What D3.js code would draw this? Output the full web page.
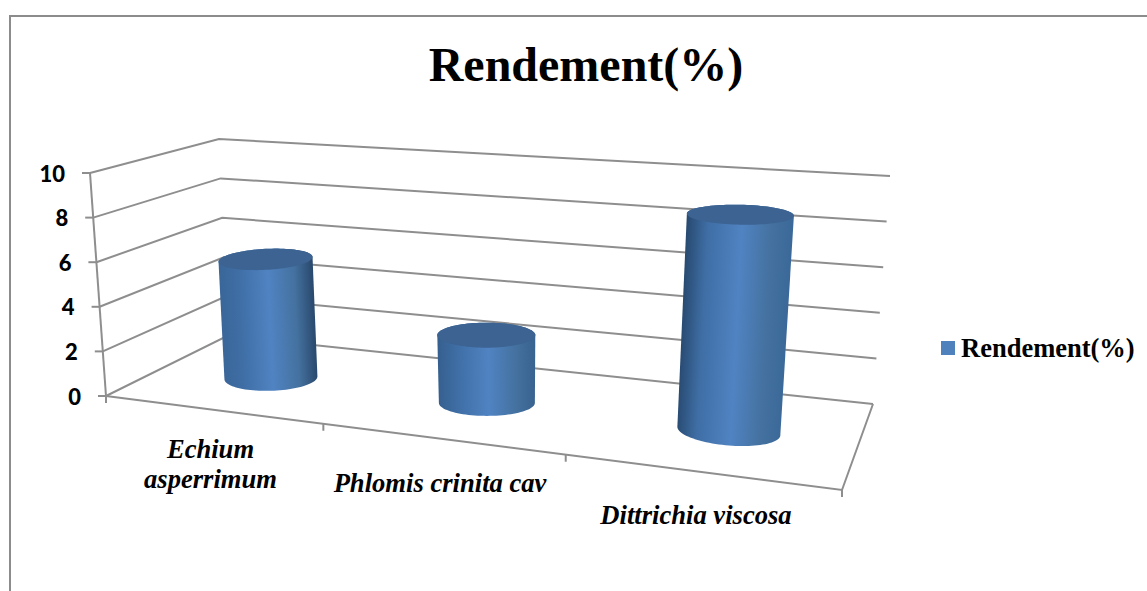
<!DOCTYPE html>
<html>
<head>
<meta charset="utf-8">
<script src="https://cdn.jsdelivr.net/npm/d3@7"></script>
<style>
  html, body { margin: 0; padding: 0; background: #fff; overflow: hidden; }
</style>
</head>
<body>
<div class="chart"></div>
<script>
var chartTitle = "Rendement(%)";
var categories = [["Echium", "asperrimum"], ["Phlomis crinita cav"], ["Dittrichia viscosa"]];
var rendement = [5.5, 3, 9.1];
var valueTicks = [0, 2, 4, 6, 8, 10];

var width = 1147, height = 591;

// screen corners of the 3d box: floor plane and the plane at the top value
var floorCorners = { fl: [106, 396], fr: [842, 490], br: [873, 404], bl: [227, 336] };
var topCorners = { fl: [90, 173], fr: [880, 232], br: [890, 176], bl: [219, 139] };

// unit square -> quad (u along the category axis, d going to the back wall)
function quadMap(q) {
  var x0 = q.fl[0], y0 = q.fl[1], x1 = q.fr[0], y1 = q.fr[1];
  var x2 = q.br[0], y2 = q.br[1], x3 = q.bl[0], y3 = q.bl[1];
  var sx = x0 - x1 + x2 - x3, sy = y0 - y1 + y2 - y3;
  var dx1 = x1 - x2, dx2 = x3 - x2, dy1 = y1 - y2, dy2 = y3 - y2;
  var den = dx1 * dy2 - dx2 * dy1;
  var g = (sx * dy2 - dx2 * sy) / den;
  var h = (dx1 * sy - sx * dy1) / den;
  var a = x1 - x0 + g * x1, b = x3 - x0 + h * x3;
  var d = y1 - y0 + g * y1, e = y3 - y0 + h * y3;
  return function (u, v) {
    var w = g * u + h * v + 1;
    return [(a * u + b * v + x0) / w, (d * u + e * v + y0) / w];
  };
}

var floorMap = quadMap(floorCorners);
var topMap = quadMap(topCorners);

var valueScale = d3.scaleLinear().domain([0, 10]).range([0, 1]);
// softens the perspective along the category axis a little
var catAxis = d3.scalePow().exponent(0.983).domain([0, 1]).range([0, 1]);
var catScale = d3.scaleBand().domain(d3.range(categories.length)).range([0, 1]);

// u, d on the floor, val on the value axis
function project(u, d, val) {
  var p = floorMap(u, d), q = topMap(u, d), t = valueScale(val);
  return [p[0] + (q[0] - p[0]) * t, p[1] + (q[1] - p[1]) * t];
}

var svg = d3.select(".chart").append("svg")
            .attr("width", width)
            .attr("height", height)
            .style("display", "block");

// outer chart frame, open at the bottom and right
svg.append("path")
   .attr("d", "M10 591V16H1147")
   .attr("fill", "none")
   .attr("stroke", "#8c8c8c")
   .attr("stroke-width", 2);

svg.append("text")
   .attr("x", 586).attr("y", 81)
   .attr("text-anchor", "middle")
   .style("font", "bold 48px 'Liberation Serif'")
   .style("fill", "#000")
   .text(chartTitle);

var lineColor = "#8e8e8e";
var line = d3.line();
var gridGroup = svg.append("g")
                   .attr("fill", "none")
                   .attr("stroke", lineColor)
                   .attr("stroke-width", 2);

// gridlines run along the side wall, then the back wall
gridGroup.selectAll(".grid")
         .data(valueTicks)
         .enter().append("path")
         .attr("d", function (v) { return line([project(0, 0, v), project(0, 1, v), project(1, 1, v)]); });

// vertical value axis at the front left corner
gridGroup.append("path").attr("d", line([project(0, 0, 0), project(0, 0, 10)]));

// floor outline, right side and front
gridGroup.append("path").attr("d", line([project(1, 1, 0), project(1, 0, 0), project(0, 0, 0)]));

// tick marks on the value axis
gridGroup.selectAll(".vtick")
         .data(valueTicks)
         .enter().append("path")
         .attr("d", function (v) {
           var p = project(0, 0, v);
           return line([[p[0] - 8, p[1]], p]);
         });

// tick marks between categories
gridGroup.selectAll(".ctick")
         .data(d3.range(categories.length + 1))
         .enter().append("path")
         .attr("d", function (i) {
           var p = project(catAxis(i / categories.length), 0, 0);
           return line([p, [p[0], p[1] + 7]]);
         });

// value labels
svg.selectAll(".vlabel")
   .data(valueTicks)
   .enter().append("text")
   .attr("x", function (v) { return project(0, 0, v)[0] - 25; })
   .attr("y", function (v) { return project(0, 0, v)[1] + 8.5; })
   .attr("text-anchor", "end")
   .style("font", "900 22px Lato")
   .style("fill", "#000")
   .text(function (v) { return v; });

// category labels
var labelPos = [[210.5, 458], [440, 491.5], [696, 524]];
var catLabels = svg.selectAll(".clabel")
   .data(categories)
   .enter().append("text")
   .attr("text-anchor", "middle")
   .style("font", "italic bold 26.6px 'Liberation Serif'")
   .style("fill", "#000");

catLabels.selectAll("tspan")
   .data(function (d, i) {
     return d.map(function (t, k) { return { t: t, x: labelPos[i][0], y: labelPos[i][1] + k * 30 }; });
   })
   .enter().append("tspan")
   .attr("x", function (d) { return d.x; })
   .attr("y", function (d) { return d.y; })
   .text(function (d) { return d.t; });

// cylinder outlines in screen space, one entry per category
var depth = 0.47, baseShift = 0.0045, topShift = 0.0085;
var baseRx = [46.5, 48, 51.5], topRx = [47, 49, 53.5];
var baseRy = [13, 13, 14.5], topRy = [10.5, 12.5, 10];
var baseTilt = [-0.03, 0, 0.08], topTilt = [-0.05, 0, 0.02];

// side shading: the light sits a bit differently on each cylinder
var leftEdge = ["#3a6699", "#355f8e", "#27496f"];
var rightEdge = ["#29486c", "#38628f", "#3a6898"];

var defs = svg.append("defs");
var angles = d3.range(0, 2 * Math.PI, Math.PI / 48);

function ring(center, rx, ry, tilt) {
  return angles.map(function (a) {
    var dx = rx * Math.cos(a);
    return [center[0] + dx, center[1] + ry * Math.sin(a) + tilt * dx];
  });
}

rendement.forEach(function (val, i) {
  var cu = catAxis(catScale(i) + catScale.bandwidth() / 2);
  var cb = project(cu + baseShift, depth, 0), ct = project(cu + topShift, depth, val);
  var base = ring(cb, baseRx[i], baseRy[i], baseTilt[i]);
  var top = ring(ct, topRx[i], topRy[i], topTilt[i]);

  // shading runs across the axis of the cylinder
  var ax = ct[0] - cb[0], ay = ct[1] - cb[1], len = Math.sqrt(ax * ax + ay * ay);
  var nx = -ay / len, ny = ax / len;
  var half = topRx[i];

  var grad = defs.append("linearGradient")
                 .attr("id", "body" + i)
                 .attr("gradientUnits", "userSpaceOnUse")
                 .attr("x1", ct[0] - nx * half)
                 .attr("y1", ct[1] - ny * half)
                 .attr("x2", ct[0] + nx * half)
                 .attr("y2", ct[1] + ny * half);
  grad.selectAll("stop")
      .data([[0, leftEdge[i]], [0.2, "#3f6ea5"], [0.52, "#5083c2"], [0.8, "#44719f"], [1, rightEdge[i]]])
      .enter().append("stop")
      .attr("offset", function (d) { return d[0]; })
      .attr("stop-color", function (d) { return d[1]; });

  svg.append("path")
     .attr("d", "M" + d3.polygonHull(base.concat(top)).join("L") + "Z")
     .attr("fill", "url(#body" + i + ")");
  svg.append("path")
     .attr("d", line(top) + "Z")
     .attr("fill", "#3c6391");
});

// legend
svg.append("rect")
   .attr("x", 941).attr("y", 341)
   .attr("width", 14).attr("height", 14)
   .attr("fill", "#4f81bd");
svg.append("text")
   .attr("x", 961).attr("y", 357)
   .style("font", "bold 26.5px 'Liberation Serif'")
   .style("fill", "#000")
   .text(chartTitle);
</script>
</body>
</html>
